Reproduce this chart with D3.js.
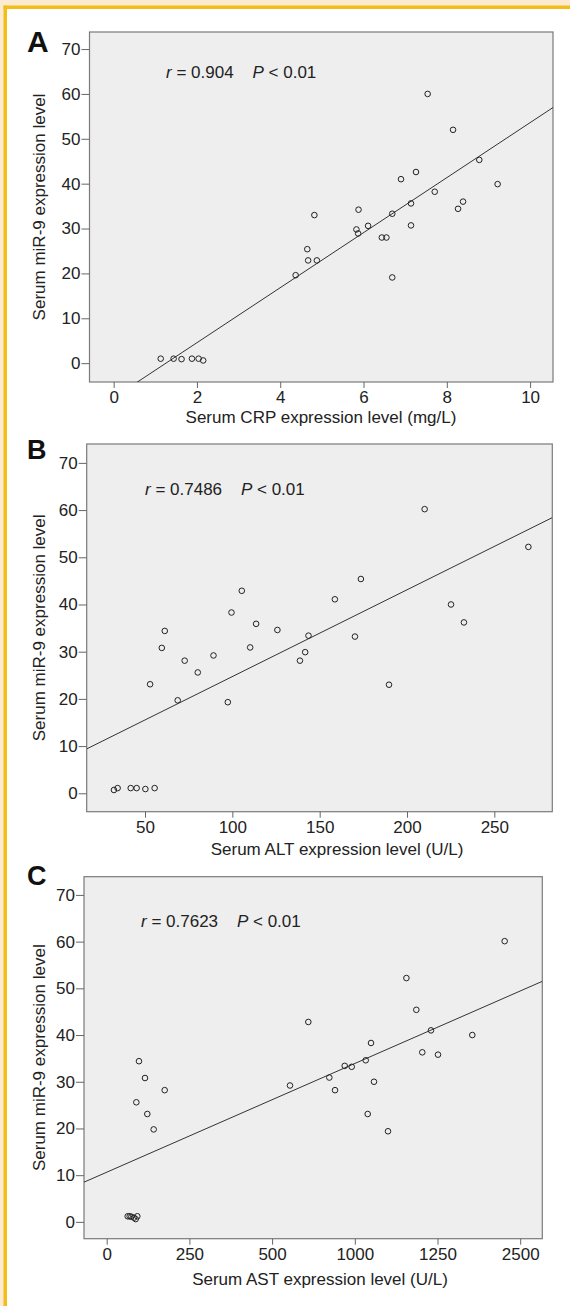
<!DOCTYPE html>
<html>
<head>
<meta charset="utf-8">
<script src="https://cdn.jsdelivr.net/npm/d3@7"></script>
<style>
body { margin: 0; background: #fff; }
svg { display: block; font-family: "Liberation Sans", Arial, Helvetica, sans-serif; }
.tick text { font-size: 17px; fill: #222; }
.tick line { stroke: #666; }
</style>
</head>
<body>
<script>
var width = 570,
    height = 1306;

// panel A: CRP vs miR-9
var crpX = [1.13, 1.44, 1.63, 1.88, 2.04, 2.15, 4.37, 4.65, 4.67, 4.88, 4.82, 5.83, 5.87, 5.88, 6.11,
            6.44, 6.55, 6.69, 6.69, 7.14, 7.14, 8.27, 8.39, 7.54, 8.15, 8.78, 6.90, 7.26, 7.71, 9.22];
var crpY = [1.0, 1.0, 0.9, 1.0, 1.0, 0.6, 19.6, 25.4, 22.9, 22.9, 33.0, 29.8, 28.9, 34.2, 30.6,
            28.0, 28.0, 33.3, 19.1, 35.6, 30.7, 34.4, 36.0, 60.0, 52.0, 45.3, 41.0, 42.6, 38.2, 39.9];
var crpTicks = [0, 2, 4, 6, 8, 10];
var crpFit = [-7.7, 6.13];   // intercept, slope

// panel B: ALT vs miR-9
var altX = [32.2, 34.3, 41.8, 45.2, 50.2, 55.5, 52.9, 59.6, 61.3, 68.7, 72.7, 80.2, 89.2, 97.4, 99.5,
            105.4, 110.2, 113.6, 125.8, 138.7, 141.7, 143.6, 158.7, 170.2, 173.6, 189.7, 225.2, 232.6, 210.1, 269.5];
var altY = [0.7, 1.1, 1.1, 1.1, 0.9, 1.1, 23.1, 30.8, 34.4, 19.7, 28.1, 25.6, 29.2, 19.3, 38.3,
            42.9, 30.9, 35.9, 34.6, 28.1, 29.9, 33.4, 41.1, 33.2, 45.4, 23.0, 40.0, 36.2, 60.2, 52.2];
var altTicks = [50, 100, 150, 200, 250];
var altFit = [6.35, 0.1838];

// panel C: AST vs miR-9 (x axis is uneven, values are axis positions)
var astX = [63.5, 69.5, 74.5, 82.5, 87.6, 92.6, 97.6, 89.6, 115.8, 122.8, 142.0, 175.3, 554.1, 609.5, 673,
            690.2, 719.5, 740.6, 783, 799, 808, 789, 850.4, 936, 954, 980.3, 1001.5, 1105.2, 906, 1203];
var astY = [1.2, 1.2, 1.1, 0.9, 0.6, 1.2, 34.4, 25.6, 30.8, 23.1, 19.8, 28.2, 29.2, 42.8, 30.9,
            28.2, 33.4, 33.2, 34.6, 38.3, 30.0, 23.1, 19.4, 45.4, 36.3, 41.0, 35.8, 40.0, 52.2, 60.1];
var astTicks = [0, 250, 500, 750, 1000, 1250];
var astLabels = ['0', '250', '500', '1000', '1250', '2500'];
var astFit = [10.63, 0.03104];

var yTicks = [0, 10, 20, 30, 40, 50, 60, 70];

var panels = [
  { letter: 'A', letterSize: 30, letterY: 52, box: [89.5, 553, 32, 382],
    xDom: [-0.58, 10.55], yDom: [-4.2, 73.8], xs: crpX, ys: crpY, ticks: crpTicks,
    fit: crpFit, r: '0.904', rX: 166, rY: 78,
    title: 'Serum CRP expression level (mg/L)', titleX: 321, titleY: 423 },
  { letter: 'B', letterSize: 27, letterY: 459, box: [86.7, 552.3, 444, 811.7],
    xDom: [16.6, 283.2], yDom: [-3.9, 74.0], xs: altX, ys: altY, ticks: altTicks,
    fit: altFit, r: '0.7486', rX: 145, rY: 495,
    title: 'Serum ALT expression level (U/L)', titleX: 337, titleY: 855 },
  { letter: 'C', letterSize: 27, letterY: 885, box: [84, 542.3, 876.7, 1238.7],
    xDom: [-68.6, 1316.8], yDom: [-3.6, 73.9], xs: astX, ys: astY, ticks: astTicks, labels: astLabels,
    fit: astFit, r: '0.7623', rX: 141, rY: 927,
    title: 'Serum AST expression level (U/L)', titleX: 320, titleY: 1285 }
];

var svg = d3.select('body').append('svg')
    .attr('width', width)
    .attr('height', height);

// page frame
svg.append('rect').attr('x', 0).attr('y', 0).attr('width', width).attr('height', 6).attr('fill', '#fcebd0');
svg.append('rect').attr('x', 0).attr('y', 0).attr('width', 4).attr('height', height).attr('fill', '#fcebd0');
svg.append('rect').attr('x', 3.5).attr('y', 5.5).attr('width', width).attr('height', 3.5).attr('fill', '#f4bd1a');
svg.append('rect').attr('x', 3.5).attr('y', 5.5).attr('width', 3.5).attr('height', height).attr('fill', '#f4bd1a');

panels.forEach(function(p, i) {
  var x = d3.scaleLinear().domain(p.xDom).range([p.box[0], p.box[1]]),
      y = d3.scaleLinear().domain(p.yDom).range([p.box[3], p.box[2]]);

  var g = svg.append('g');

  g.append('rect')
    .attr('x', p.box[0])
    .attr('y', p.box[2])
    .attr('width', p.box[1] - p.box[0])
    .attr('height', p.box[3] - p.box[2])
    .attr('fill', '#eeeeee')
    .attr('stroke', '#7a7a7a')
    .attr('stroke-width', 1.2);

  // y axis
  var ya = g.append('g')
    .attr('transform', 'translate(' + p.box[0] + ',0)')
    .call(d3.axisLeft(y).tickValues(yTicks).tickSize(8).tickPadding(1).tickSizeOuter(0));
  ya.select('.domain').remove();

  // x axis
  var xAxis = d3.axisBottom(x).tickValues(p.ticks).tickSize(6).tickPadding(3).tickSizeOuter(0);
  if (p.labels) xAxis.tickFormat(function(d, j) { return p.labels[j]; });
  var xa = g.append('g')
    .attr('transform', 'translate(0,' + p.box[3] + ')')
    .call(xAxis);
  xa.select('.domain').remove();

  // fit line, clipped to the box
  g.append('clipPath').attr('id', 'clip' + i)
    .append('rect')
    .attr('x', p.box[0]).attr('y', p.box[2])
    .attr('width', p.box[1] - p.box[0]).attr('height', p.box[3] - p.box[2]);

  g.append('line')
    .attr('clip-path', 'url(#clip' + i + ')')
    .attr('x1', x(p.xDom[0]))
    .attr('y1', y(p.fit[0] + p.fit[1] * p.xDom[0]))
    .attr('x2', x(p.xDom[1]))
    .attr('y2', y(p.fit[0] + p.fit[1] * p.xDom[1]))
    .attr('stroke', '#333')
    .attr('stroke-width', 1);

  g.selectAll('.pt')
    .data(p.xs)
    .enter().append('circle')
    .attr('class', 'pt')
    .attr('cx', function(d) { return x(d); })
    .attr('cy', function(d, j) { return y(p.ys[j]); })
    .attr('r', 2.8)
    .attr('fill', 'none')
    .attr('stroke', '#222')
    .attr('stroke-width', 1);

  // labels
  g.append('text')
    .attr('x', 27)
    .attr('y', p.letterY)
    .attr('font-size', p.letterSize)
    .attr('font-weight', 'bold')
    .attr('fill', '#111')
    .text(p.letter);

  var t = g.append('text')
    .attr('x', p.rX)
    .attr('y', p.rY)
    .attr('font-size', 17)
    .attr('fill', '#222')
    .attr('xml:space', 'preserve');
  t.append('tspan').attr('font-style', 'italic').text('r');
  t.append('tspan').text(' = ' + p.r + '    ');
  t.append('tspan').attr('font-style', 'italic').text('P');
  t.append('tspan').text(' < 0.01');

  g.append('text')
    .attr('x', p.titleX)
    .attr('y', p.titleY)
    .attr('text-anchor', 'middle')
    .attr('font-size', 17)
    .attr('fill', '#222')
    .text(p.title);

  g.append('text')
    .attr('transform', 'translate(45,' + (p.box[2] + p.box[3]) / 2 + ') rotate(-90)')
    .attr('text-anchor', 'middle')
    .attr('font-size', 17)
    .attr('fill', '#222')
    .text('Serum miR-9 expression level');
});
</script>
</body>
</html>
